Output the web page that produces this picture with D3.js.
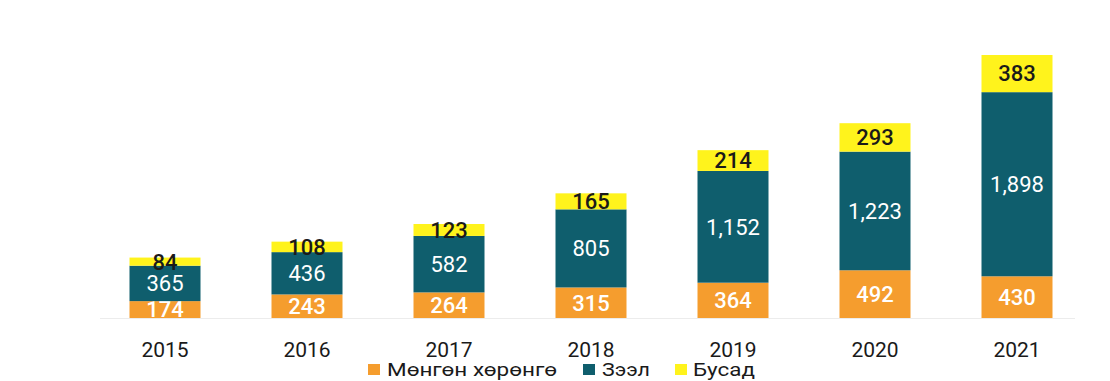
<!DOCTYPE html>
<html>
<head>
<meta charset="utf-8">
<script src="https://cdn.jsdelivr.net/npm/d3@7"></script>
<style>
  html, body { margin: 0; padding: 0; background: #fff; }
  svg { display: block; font-family: Roboto, "Noto Sans", sans-serif; }
</style>
</head>
<body>
<svg id="chart" width="1110" height="381"></svg>
<script>
// Years on the x axis
const years = ["2015", "2016", "2017", "2018", "2019", "2020", "2021"];
// Stacked series (bottom to top)
const cash   = [174, 243, 264, 315, 364, 492, 430];     // Мөнгөн хөрөнгө
const loans  = [365, 436, 582, 805, 1152, 1223, 1898];  // Зээл
const other  = [84, 108, 123, 165, 214, 293, 383];      // Бусад
const seriesNames = ["Мөнгөн хөрөнгө", "Зээл", "Бусад"];

const colors = ["#F59D2E", "#0F5E6D", "#FFF31C"];
const labelColors = ["#ffffff", "#ffffff", "#1a1a1a"];
const labelWeights = [500, 400, 500];

const rows = years.map((y, i) => ({ year: y, s0: cash[i], s1: loans[i], s2: other[i] }));
const stack = d3.stack().keys(["s0", "s1", "s2"])(rows);

const svg = d3.select("#chart");
const baseY = 318;

const x = d3.scaleBand().domain(years).range([94, 1088]).paddingInner(0.5).paddingOuter(0.25);
const maxTotal = d3.max(rows, d => d.s0 + d.s1 + d.s2);
const y = d3.scaleLinear().domain([0, maxTotal]).range([baseY, 55]);

// faint baseline
svg.append("line")
  .attr("x1", 100).attr("x2", 1075)
  .attr("y1", baseY + 0.5).attr("y2", baseY + 0.5)
  .attr("stroke", "#ececec").attr("stroke-width", 1);

const fmt = d3.format(",");

stack.forEach((layer, li) => {
  const g = svg.append("g");
  g.selectAll("rect").data(layer).join("rect")
    .attr("x", d => x(d.data.year))
    .attr("width", x.bandwidth())
    .attr("y", d => y(d[1]))
    .attr("height", d => y(d[0]) - y(d[1]))
    .attr("fill", colors[li]);
  g.selectAll("text").data(layer).join("text")
    .attr("x", d => x(d.data.year) + x.bandwidth() / 2)
    .attr("y", d => (y(d[0]) + y(d[1])) / 2)
    .attr("dy", "0.36em")
    .attr("text-anchor", "middle")
    .attr("font-size", 22)
    .attr("font-weight", labelWeights[li])
    .attr("fill", labelColors[li])
    .text(d => fmt(d[1] - d[0]));
});

// x axis labels
const xAxis = d3.axisBottom(x).tickSize(0).tickPadding(0);
const ax = svg.append("g").attr("transform", `translate(0, ${baseY})`).call(xAxis);
ax.select(".domain").remove();
ax.selectAll("text")
  .attr("y", 39)
  .attr("dy", "0")
  .attr("font-size", 21)
  .attr("font-family", "Roboto, 'Noto Sans', sans-serif")
  .attr("fill", "#1a1a1a");

// legend
const legendItems = [
  { name: seriesNames[0], sx: 368, tx: 387, len: 170 },
  { name: seriesNames[1], sx: 583, tx: 602, len: 48 },
  { name: seriesNames[2], sx: 675, tx: 693, len: 62 }
];
const legend = svg.append("g");
legendItems.forEach((item, i) => {
  legend.append("rect")
    .attr("x", item.sx).attr("y", 364)
    .attr("width", 12).attr("height", 11)
    .attr("fill", colors[i]);
  legend.append("text")
    .attr("x", item.tx).attr("y", 376)
    .attr("font-size", 19)
    .attr("textLength", item.len)
    .attr("lengthAdjust", "spacingAndGlyphs")
    .attr("fill", "#1a1a1a")
    .text(item.name);
});
</script>
</body>
</html>
